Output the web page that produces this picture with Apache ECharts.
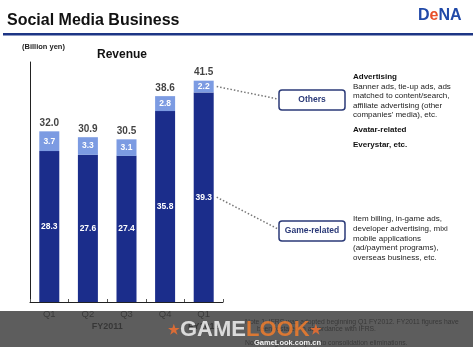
<!DOCTYPE html>
<html>
<head>
<meta charset="utf-8">
<script src="https://cdn.jsdelivr.net/npm/echarts@6/dist/echarts.min.js"></script>
<style>
  html, body { margin: 0; padding: 0; background: #fff; }
  #chart { width: 473px; height: 349px; }
</style>
</head>
<body>
<div id="chart"></div>
<script>
// Quarterly revenue of the social media business (billion yen)
const quarters = ['Q1', 'Q2', 'Q3', 'Q4', 'Q1'];
const fiscalYears = ['FY2011', 'FY2012'];
const gameRelated = [28.3, 27.6, 27.4, 35.8, 39.3];
const others = [3.7, 3.3, 3.1, 2.8, 2.2];
const totals = [32.0, 30.9, 30.5, 38.6, 41.5];

const FONT = '"Liberation Sans", Arial, sans-serif';
const DARK = '#1b2d8b';
const LIGHT = '#7c9be2';

const chart = echarts.init(document.getElementById('chart'), null, { renderer: 'canvas' });

const segLabel = {
  show: true,
  position: 'inside',
  color: '#fff',
  fontFamily: FONT,
  fontWeight: 'bold',
  fontSize: 8.5,
  formatter: p => p.value.toFixed(1)
};

chart.setOption({
  animation: false,
  backgroundColor: '#fff',
  grid: { left: 30, right: 250, top: 62, bottom: 47 },
  xAxis: {
    type: 'category',
    data: quarters,
    boundaryGap: true,
    axisLine: { lineStyle: { color: '#222', width: 1 } },
    axisTick: { show: true, inside: true, length: 3, lineStyle: { color: '#555' } },
    axisLabel: { color: '#222', fontFamily: FONT, fontSize: 9.5, margin: 7 }
  },
  yAxis: {
    type: 'value',
    min: 0,
    max: 45,
    splitLine: { show: false },
    axisLabel: { show: false },
    axisTick: { show: false },
    axisLine: { show: true, lineStyle: { color: '#222', width: 1 } }
  },
  series: [
    {
      name: 'Game-related',
      type: 'bar',
      stack: 'rev',
      barWidth: 20,
      data: gameRelated,
      itemStyle: { color: DARK },
      label: segLabel
    },
    {
      name: 'Others',
      type: 'bar',
      stack: 'rev',
      barWidth: 20,
      data: others,
      itemStyle: { color: LIGHT },
      label: segLabel
    },
    {
      name: 'Total',
      type: 'scatter',
      symbolSize: 0,
      data: totals,
      label: {
        show: true,
        position: 'top',
        distance: 3,
        color: '#111',
        fontFamily: FONT,
        fontWeight: 'bold',
        fontSize: 10,
        formatter: p => p.value.toFixed(1)
      },
      z: 5
    }
  ]
});

// Connector anchors taken from the last quarter's bar segments
const last = quarters.length - 1;
const othersMid = chart.convertToPixel({ seriesIndex: 0 }, [last, gameRelated[last] + others[last] / 2]);
const gameMid = chart.convertToPixel({ seriesIndex: 0 }, [last, gameRelated[last] / 2]);
const fy2011 = (chart.convertToPixel({ seriesIndex: 0 }, [0, 0])[0] + chart.convertToPixel({ seriesIndex: 0 }, [3, 0])[0]) / 2;
const fy2012 = chart.convertToPixel({ seriesIndex: 0 }, [last, 0])[0];

function txt(x, y, text, opts) {
  return {
    type: 'text', x: x, y: y, z: 20,
    style: Object.assign({
      text: text, fill: '#222', font: '8px ' + FONT, textVerticalAlign: 'middle'
    }, opts || {})
  };
}

function box(x, y, w, h, label) {
  return [
    {
      type: 'rect', z: 20,
      shape: { x: x, y: y, width: w, height: h, r: 3 },
      style: { fill: '#fff', stroke: '#2b3a78', lineWidth: 1.5 }
    },
    txt(x + w / 2, y + h / 2, label, { fill: '#2b3a78', font: 'bold 8.5px ' + FONT, textAlign: 'center' })
  ];
}

const elements = [];

// Heading and rule
elements.push(txt(7, 21, 'Social Media Business', { fill: '#111', font: 'bold 16px ' + FONT }));
elements.push({
  type: 'rect', z: 20,
  shape: { x: 3, y: 33, width: 470, height: 2.5 },
  style: { fill: '#1d3585' }
});
elements.push({
  type: 'text', x: 418, y: 16, z: 20,
  style: {
    text: '{b|D}{o|e}{b|NA}',
    textVerticalAlign: 'middle',
    rich: {
      b: { fill: '#2149a8', font: 'bold 16px ' + FONT },
      o: { fill: '#e8502a', font: 'bold 16px ' + FONT }
    }
  }
});
elements.push(txt(22, 47, '(Billion yen)', { fill: '#222', font: 'bold 7.5px ' + FONT }));
elements.push(txt(97, 55, 'Revenue', { fill: '#111', font: 'bold 12px ' + FONT }));

// Dotted connectors
elements.push({
  type: 'line', z: 15,
  shape: { x1: othersMid[0] + 13, y1: othersMid[1], x2: 278, y2: 99 },
  style: { stroke: '#777', lineWidth: 1.5, lineDash: [1.5, 2] }
});
elements.push({
  type: 'line', z: 15,
  shape: { x1: gameMid[0] + 13, y1: gameMid[1], x2: 278, y2: 229 },
  style: { stroke: '#777', lineWidth: 1.5, lineDash: [1.5, 2] }
});

elements.push(...box(279, 90, 66, 20, 'Others'));
elements.push(...box(279, 221, 66, 20, 'Game-related'));

// Descriptions
const bold = { fill: '#111', font: 'bold 8px ' + FONT };
elements.push(txt(353, 77, 'Advertising', bold));
['Banner ads, tie-up ads, ads',
 'matched to content/search,',
 'affiliate advertising (other',
 "companies' media), etc."].forEach((s, i) => elements.push(txt(353, 86.5 + i * 9.4, s)));
elements.push(txt(353, 129.5, 'Avatar-related', bold));
elements.push(txt(353, 144.5, 'Everystar, etc.', bold));

['Item billing, in-game ads,',
 'developer advertising, mixi',
 'mobile applications',
 '(ad/payment programs),',
 'overseas business, etc.'].forEach((s, i) => elements.push(txt(353, 219 + i * 9.7, s)));

// Fiscal year captions
elements.push(txt(fy2011, 327, fiscalYears[0], { fill: '#111', font: 'bold 9px ' + FONT, textAlign: 'center' }));
elements.push(txt(fy2012, 327, fiscalYears[1], { fill: '#111', font: 'bold 9px ' + FONT, textAlign: 'center' }));

// Footnotes
const note = { fill: '#111', font: '6.8px ' + FONT };
elements.push(txt(245, 322, 'Note 1: IFRS was adopted beginning Q1 FY2012. FY2011 figures have', note));
elements.push(txt(257, 329.5, 'been restated in accordance with IFRS.', note));
elements.push(txt(245, 343, 'Note 2: Figures are prior to consolidation eliminations.', note));

// Site banner across the bottom
elements.push({
  type: 'rect', z: 30,
  shape: { x: 0, y: 311, width: 473, height: 36 },
  style: { fill: 'rgba(62,62,62,0.84)' }
});
elements.push({
  type: 'text', x: 168, y: 330, z: 31,
  style: {
    text: '{s|★}{g|GAME}{l|LOOK}{s|★}',
    textVerticalAlign: 'middle',
    rich: {
      s: { fill: 'rgba(232,110,50,0.9)', font: 'bold 13px ' + FONT },
      g: { fill: 'rgba(225,225,225,0.95)', font: 'bold 22px ' + FONT },
      l: { fill: 'rgba(240,125,45,0.85)', font: 'bold 22px ' + FONT }
    }
  }
});
elements.push({
  type: 'text', x: 254, y: 343, z: 32,
  style: { text: 'GameLook.com.cn', fill: '#f2f2f2', font: 'bold 7.5px ' + FONT, textVerticalAlign: 'middle' }
});

chart.setOption({ graphic: { elements: elements } });
</script>
</body>
</html>
